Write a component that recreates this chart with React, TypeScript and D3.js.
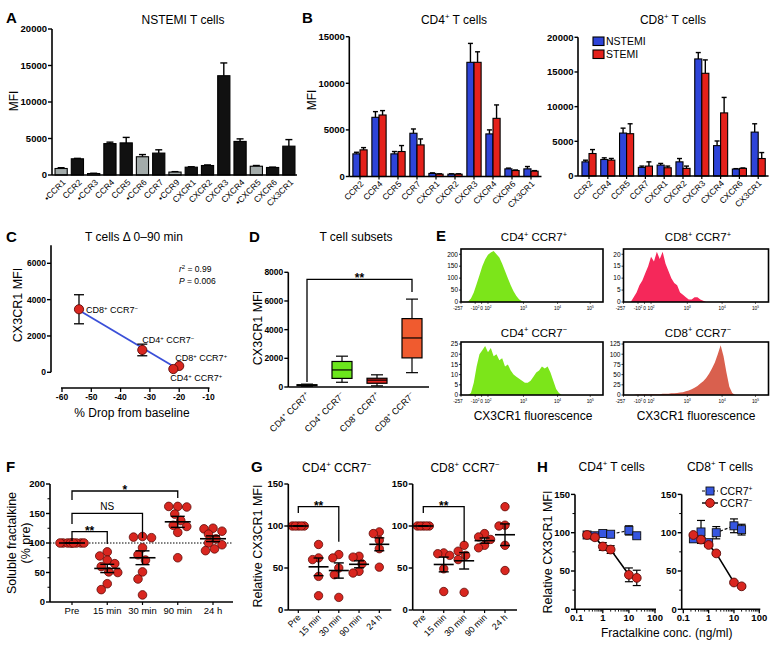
import React from "react";
import * as d3 from "d3";

const FONT = "'Liberation Sans', Arial, Helvetica, sans-serif";
const BLUE = "#2e44d8";
const RED = "#e4211b";
const GRAY = "#a3abaa";
const DOT_FILL = "#d9261f";
const DOT_STROKE = "#5e0b08";
const SW = 1.6;

// ---------------- Panel A ----------------
const aCats = ["•CCR1", "CCR2", "•CCR3", "CCR4", "CCR5", "•CCR6", "CCR7", "•CCR9", "CXCR1", "CXCR2", "CXCR3", "CXCR4", "•CXCR5", "CXCR6", "CX3CR1"];
const aMean = [890, 2220, 200, 4300, 4400, 2500, 3000, 400, 1070, 1300, 13600, 4600, 1200, 1030, 3950];
const aSem = [110, 60, 40, 200, 750, 300, 450, 60, 60, 80, 1750, 350, 100, 50, 900];
const aTicks = [0, 5000, 10000, 15000, 20000];

// ---------------- Panel B ----------------
const bCats = ["CCR2", "CCR4", "CCR5", "CCR7", "CXCR1", "CXCR2", "CXCR3", "CXCR4", "CXCR6", "CX3CR1"];
const bSeries = ["NSTEMI", "STEMI"];
const cd4Nstemi = [2430, 6350, 2430, 4640, 330, 250, 12250, 4570, 820, 820];
const cd4NstemiSem = [170, 610, 250, 460, 60, 40, 2030, 430, 80, 250];
const cd4Stemi = [2860, 6600, 2680, 3390, 250, 250, 12250, 6240, 640, 570];
const cd4StemiSem = [240, 470, 640, 640, 40, 40, 1130, 1440, 60, 60];
const cd8Nstemi = [2040, 2380, 6190, 1240, 1570, 2040, 16880, 4380, 1000, 6330];
const cd8NstemiSem = [240, 240, 710, 190, 240, 480, 920, 670, 60, 1200];
const cd8Stemi = [3240, 2290, 6100, 1430, 1190, 1100, 14810, 9100, 1100, 2520];
const cd8StemiSem = [570, 240, 1430, 610, 240, 330, 1930, 2230, 60, 860];
const cd4Ticks = [0, 5000, 10000, 15000];
const cd8Ticks = [0, 5000, 10000, 15000, 20000];

// ---------------- Panel C ----------------
const cSubsets = ["CD8^+ CCR7^−", "CD4^+ CCR7^−", "CD8^+ CCR7^+", "CD4^+ CCR7^+"];
const cDrop = [-54.2, -32.6, -20, -22];
const cMfi = [3470, 1230, 350, 180];
const cMfiSem = [800, 320, 0, 0];
const cXTicks = [-60, -50, -40, -30, -20, -10];
const cYTicks = [0, 2000, 4000, 6000];
const cLabelOffsets = [[7, 4], [0, -7], [-4, -5], [-3, 12]];

// ---------------- Panel D ----------------
const dCats = ["CD4^+ CCR7^+", "CD4^+ CCR7^−", "CD8^+ CCR7^+", "CD8^+ CCR7^−"];
const dMin = [60, 330, 80, 1000];
const dQ1 = [90, 600, 260, 2030];
const dMed = [120, 1190, 480, 3420];
const dQ3 = [160, 1780, 610, 4770];
const dMax = [200, 2150, 850, 6130];
const dColors = ["#6be61c", "#6be61c", "#e3241f", "#f05b2f"];
const dTicks = [0, 2000, 4000, 6000, 8000];

// ---------------- Panel E ----------------
const eTickFrac = [0, 0.1, 0.145, 0.19, 0.44, 0.68, 0.91];
const eTickLab = ["-257", "-10^2", "0", "10^2", "10^3", "10^4", "10^5"];
const eCd4Pos = [0, 0, 2, 15, 40, 75, 112, 150, 178, 198, 207, 214, 200, 186, 160, 130, 100, 70, 45, 25, 10, 3, 0, 0, 0, 0, 0, 0, 0, 0, 0, 0, 0, 0, 0, 0, 0, 0, 0, 0, 0, 0, 0, 0, 0, 0, 0, 0, 0, 0];
const eCd8Pos = [0, 0, 0, 2, 4, 7, 9, 12, 15, 19, 17, 21, 18, 21, 16, 13, 10, 8, 7, 4, 3, 2, 1, 1, 2, 2, 1, 0.5, 0, 0, 0, 0, 0, 0, 0, 0, 0, 0, 0, 0, 0, 0, 0, 0, 0, 0, 0, 0, 0, 0];
const eCd4Neg = [0, 0, 0, 1, 6, 14, 20, 22, 24, 21, 23, 19, 20, 17, 18, 14, 15, 12, 10, 9, 8, 7, 6, 6, 7, 9, 11, 12, 14, 13, 14, 11, 7, 3, 1, 0, 0, 0, 0, 0, 0, 0, 0, 0, 0, 0, 0, 0, 0, 0];
const eCd8Neg = [0, 0, 0, 0, 1, 1, 1, 2, 1, 2, 2, 2, 2, 3, 3, 3, 4, 4, 5, 6, 7, 9, 11, 14, 18, 22, 28, 34, 42, 52, 65, 80, 100, 122, 95, 55, 20, 5, 0, 0, 0, 0, 0, 0, 0, 0, 0, 0, 0, 0];

// ---------------- Panel F ----------------
const fCats = ["Pre", "15 min", "30 min", "90 min", "24 h"];
const fPre = [100, 100, 100, 100, 100, 100, 100, 100, 100];
const f15 = [85, 78, 71, 65, 60, 51, 50, 31, 21];
const f30 = [111, 110, 109, 92, 80, 71, 51, 39, 12];
const f90 = [162, 162, 161, 149, 138, 130, 128, 118, 75];
const f24 = [125, 124, 120, 115, 107, 100, 97, 90, 87];
const fTicks = [0, 50, 100, 150, 200];

// ---------------- Panel G ----------------
const gCats = ["Pre", "15 min", "30 min", "90 min", "24 h"];
const gCd4 = [[100, 100, 100, 100, 100], [78, 62, 60, 40, 17], [66, 62, 50, 42, 15], [64, 63, 55, 46, 44], [93, 91, 83, 73, 51]];
const gCd8 = [[100, 100, 100, 100, 100], [68, 67, 65, 49, 22], [77, 70, 65, 60, 21], [91, 87, 84, 77, 74], [123, 101, 100, 77, 47]];
const gTicks = [0, 50, 100, 150];

// ---------------- Panel H ----------------
const hConc = [0.25, 0.5, 1, 2, 10, 20];
const hCd4Pos = [97, 96, 99, 98, 103, 96];
const hCd4PosErr = [4, 4, 2, 2, 6, 2];
const hCd4Neg = [97, 94, 82, 78, 45, 41];
const hCd4NegErr = [2, 3, 5, 5, 9, 10];
const hCd8Pos = [92, 101, 87, 100, 109, 104];
const hCd8PosErr = [4, 15, 4, 8, 9, 7];
const hCd8Neg = [97, 91, 84, 73, 35, 30];
const hCd8NegErr = [2, 4, 2, 2, 2, 2];
const hTicks = [0, 50, 100, 150];

// ---------------- helpers ----------------
function SupText({ s, fs }: { s: string; fs: number }) {
  const parts: { t: string; sup: boolean }[] = [];
  let buf = "";
  for (let i = 0; i < s.length; i++) {
    if (s[i] === "^" && i + 1 < s.length) {
      if (buf) parts.push({ t: buf, sup: false });
      buf = "";
      parts.push({ t: s[i + 1], sup: true });
      i++;
    } else buf += s[i];
  }
  if (buf) parts.push({ t: buf, sup: false });
  const sh = fs * 0.38;
  let up = false;
  return (
    <>
      {parts.map((p, k) => {
        let dy = 0;
        if (p.sup && !up) { dy = -sh; up = true; }
        else if (!p.sup && up) { dy = sh; up = false; }
        return (
          <tspan key={k} dy={dy || undefined} fontSize={p.sup ? fs * 0.65 : fs}>{p.t}</tspan>
        );
      })}
    </>
  );
}

function Letter({ x, y, t }: any) {
  return <text x={x} y={y} fontSize={15} fontWeight="bold">{t}</text>;
}

function YAxis({ x, scale, ticks, top, bottom, fs = 9, minor = [], tickLen = 4 }: any) {
  return (
    <g>
      <line x1={x} x2={x} y1={top} y2={bottom} stroke="#000" strokeWidth={SW} />
      {ticks.map((t: number) => (
        <g key={t}>
          <line x1={x - tickLen} x2={x} y1={scale(t)} y2={scale(t)} stroke="#000" strokeWidth={1.4} />
          <text x={x - tickLen - 1} y={scale(t)} dy="0.35em" textAnchor="end" fontSize={fs} fontWeight="bold">{t}</text>
        </g>
      ))}
      {minor.map((t: number) => (
        <line key={"m" + t} x1={x - 2.5} x2={x} y1={scale(t)} y2={scale(t)} stroke="#000" strokeWidth={1} />
      ))}
    </g>
  );
}

function RotLabel({ x, y, s, fs = 9 }: any) {
  return (
    <text transform={`translate(${x},${y}) rotate(-45)`} textAnchor="end" fontSize={fs}>
      <SupText s={s} fs={fs} />
    </text>
  );
}

function swarm(vals: number[], y: (v: number) => number, r: number, maxHalf: number) {
  const order = vals.map((_, i) => i).sort((a, b) => vals[b] - vals[a]);
  const placed: { x: number; y: number }[] = [];
  const off = new Array(vals.length).fill(0);
  const cands = [0];
  for (let s = 1; s * 1.5 <= maxHalf; s++) cands.push(-s * 1.5, s * 1.5);
  order.forEach((i) => {
    const yy = y(vals[i]);
    let best = 0, bestD = -1;
    for (const c of cands) {
      let md = Infinity;
      for (const p of placed) md = Math.min(md, Math.hypot(p.x - c, p.y - yy));
      if (md >= 2 * r * 0.95) { best = c; bestD = md; break; }
      if (md > bestD) { bestD = md; best = c; }
    }
    placed.push({ x: best, y: yy });
    off[i] = best;
  });
  return off;
}

function DotGroup({ cx, vals, y, r = 4.3, maxHalf = 12, meanHalf = 12, capHalf = 6 }: any) {
  const off = swarm(vals, y, r, maxHalf);
  const m = d3.mean(vals) as number;
  const sem = vals.length > 1 ? (d3.deviation(vals) as number) / Math.sqrt(vals.length) : 0;
  return (
    <g>
      {vals.map((v: number, i: number) => (
        <circle key={i} cx={cx + off[i]} cy={y(v)} r={r} fill={DOT_FILL} stroke={DOT_STROKE} strokeWidth={0.8} />
      ))}
      <line x1={cx - meanHalf} x2={cx + meanHalf} y1={y(m)} y2={y(m)} stroke="#000" strokeWidth={1.6} />
      <line x1={cx} x2={cx} y1={y(m - sem)} y2={y(m + sem)} stroke="#000" strokeWidth={1.4} />
      <line x1={cx - capHalf} x2={cx + capHalf} y1={y(m - sem)} y2={y(m - sem)} stroke="#000" strokeWidth={1.4} />
      <line x1={cx - capHalf} x2={cx + capHalf} y1={y(m + sem)} y2={y(m + sem)} stroke="#000" strokeWidth={1.4} />
    </g>
  );
}

function Bracket({ x1, x2, y, yl, yr, label, above = false }: any) {
  return (
    <g>
      <path d={`M${x1},${yl}V${y}H${x2}V${yr}`} fill="none" stroke="#000" strokeWidth={1.3} />
      <text x={(x1 + x2) / 2} y={above ? y - 3 : y + 3} textAnchor="middle" fontSize={above ? 10 : 12} fontWeight={above ? "normal" : "bold"}>{label}</text>
    </g>
  );
}

// ---------------- panels ----------------
function PanelA() {
  const x = d3.scaleBand<string>().domain(aCats).range([53, 297]).paddingInner(0.25).paddingOuter(0.125);
  const y = d3.scaleLinear().domain([0, 20000]).range([175, 29]);
  const bw = x.bandwidth();
  return (
    <g>
      <Letter x={6} y={23} t="A" />
      <text x={183} y={24} textAnchor="middle" fontSize={12}>NSTEMI T cells</text>
      <text transform="translate(17.5,101) rotate(-90)" textAnchor="middle" fontSize={12}>MFI</text>
      {aCats.map((c, i) => {
        const bx = x(c) as number;
        const mx = bx + bw / 2;
        const top = y(aMean[i]);
        const et = y(aMean[i] + aSem[i]);
        return (
          <g key={c}>
            <line x1={mx} x2={mx} y1={top} y2={et} stroke="#000" strokeWidth={1.4} />
            <line x1={mx - 3.5} x2={mx + 3.5} y1={et} y2={et} stroke="#000" strokeWidth={1.4} />
            <rect x={bx} y={top} width={bw} height={y(0) - top} fill={c.startsWith("•") ? GRAY : "#111"} stroke="#000" strokeWidth={1.1} />
            <RotLabel x={mx + 5} y={183} s={c} fs={8.5} />
          </g>
        );
      })}
      <YAxis x={52} scale={y} ticks={aTicks} top={y(20000)} bottom={y(0)} fs={9.5} />
      <line x1={52} x2={297} y1={y(0)} y2={y(0)} stroke="#000" strokeWidth={SW} />
    </g>
  );
}

function GroupBars({ x0, x1, y, ticks, nVals, nSem, sVals, sSem, axisX }: any) {
  const x = d3.scaleBand<string>().domain(bCats).range([x0, x1]).paddingInner(0.25).paddingOuter(0.125);
  const inner = d3.scaleBand<string>().domain(bSeries).range([0, x.bandwidth()]);
  const bw = inner.bandwidth();
  const base = y(0);
  const series: any[] = [[nVals, nSem, BLUE], [sVals, sSem, RED]];
  return (
    <g>
      {bCats.map((c, i) => {
        const cx = (x(c) as number) + x.bandwidth() / 2;
        return (
          <g key={c}>
            {bSeries.map((s, j) => {
              const v = series[j][0][i];
              const e = series[j][1][i];
              const bx = (x(c) as number) + (inner(s) as number);
              const mx = bx + bw / 2;
              const top = y(v);
              const et = y(v + e);
              return (
                <g key={s}>
                  <line x1={mx} x2={mx} y1={top} y2={et} stroke="#000" strokeWidth={1.4} />
                  <line x1={mx - 2.5} x2={mx + 2.5} y1={et} y2={et} stroke="#000" strokeWidth={1.4} />
                  <rect x={bx} y={top} width={bw} height={base - top} fill={series[j][2]} stroke="#000" strokeWidth={1.1} />
                </g>
              );
            })}
            <line x1={cx} x2={cx} y1={base} y2={base + 3} stroke="#000" strokeWidth={1.2} />
            <RotLabel x={cx + 4} y={base + 8} s={c} fs={8.5} />
          </g>
        );
      })}
      <YAxis x={axisX} scale={y} ticks={ticks} top={y(ticks[ticks.length - 1])} bottom={base} fs={9.5} tickLen={3.5} />
      <line x1={axisX} x2={x1 + 1} y1={base} y2={base} stroke="#000" strokeWidth={SW} />
    </g>
  );
}

function PanelB() {
  const y4 = d3.scaleLinear().domain([0, 15000]).range([176.5, 36.7]);
  const y8 = d3.scaleLinear().domain([0, 20000]).range([176, 37.3]);
  return (
    <g>
      <Letter x={302} y={23} t="B" />
      <text x={454} y={24} textAnchor="middle" fontSize={12}><SupText s="CD4^+ T cells" fs={12} /></text>
      <text x={673} y={24} textAnchor="middle" fontSize={12}><SupText s="CD8^+ T cells" fs={12} /></text>
      <text transform="translate(315.5,100) rotate(-90)" textAnchor="middle" fontSize={12}>MFI</text>
      <GroupBars x0={350.5} x1={540.5} y={y4} ticks={cd4Ticks} nVals={cd4Nstemi} nSem={cd4NstemiSem} sVals={cd4Stemi} sSem={cd4StemiSem} axisX={349.3} />
      <GroupBars x0={579.6} x1={767.6} y={y8} ticks={cd8Ticks} nVals={cd8Nstemi} nSem={cd8NstemiSem} sVals={cd8Stemi} sSem={cd8StemiSem} axisX={578} />
      {bSeries.map((s, j) => (
        <g key={s}>
          <rect x={593} y={37 + j * 13} width={11} height={8.5} fill={j === 0 ? BLUE : RED} stroke="#000" strokeWidth={1.1} />
          <text x={606} y={45 + j * 13} fontSize={10.5}>{s}</text>
        </g>
      ))}
    </g>
  );
}

function PanelC() {
  const x = d3.scaleLinear().domain([-60, -10]).range([62, 208.5]);
  const y = d3.scaleLinear().domain([0, 6000]).range([372.3, 263.3]);
  const mx = d3.mean(cDrop) as number;
  const my = d3.mean(cMfi) as number;
  const b = (d3.sum(cDrop.map((d, i) => (d - mx) * (cMfi[i] - my))) as number) / (d3.sum(cDrop.map((d) => (d - mx) ** 2)) as number);
  const a = my - b * mx;
  const [xmin, xmax] = d3.extent(cDrop) as [number, number];
  return (
    <g>
      <Letter x={6} y={242} t="C" />
      <text x={134} y={241} textAnchor="middle" fontSize={12}>T cells Δ 0–90 min</text>
      <text transform="translate(22,305) rotate(-90)" textAnchor="middle" fontSize={12.5}>CX3CR1 MFI</text>
      <YAxis x={51} scale={y} ticks={cYTicks} top={y(7000)} bottom={y(0)} fs={8.5} />
      <line x1={x(-60) - 1} x2={x(-10) + 1} y1={388} y2={388} stroke="#000" strokeWidth={SW} />
      {cXTicks.map((t) => (
        <g key={t}>
          <line x1={x(t)} x2={x(t)} y1={388} y2={392} stroke="#000" strokeWidth={1.3} />
          <text x={x(t)} y={400} textAnchor="middle" fontSize={8.5} fontWeight="bold">{t}</text>
        </g>
      ))}
      <text x={132} y={417} textAnchor="middle" fontSize={12}>% Drop from baseline</text>
      <line x1={x(xmin)} x2={x(xmax)} y1={y(a + b * xmin)} y2={y(a + b * xmax)} stroke="#3a4fd8" strokeWidth={1.8} />
      {cSubsets.map((s, i) => {
        const px = x(cDrop[i]);
        const py = y(cMfi[i]);
        const e = cMfiSem[i];
        return (
          <g key={s}>
            {e > 0 && (
              <g>
                <line x1={px} x2={px} y1={y(cMfi[i] - e)} y2={y(cMfi[i] + e)} stroke="#000" strokeWidth={1.3} />
                <line x1={px - 5} x2={px + 5} y1={y(cMfi[i] - e)} y2={y(cMfi[i] - e)} stroke="#000" strokeWidth={1.3} />
                <line x1={px - 5} x2={px + 5} y1={y(cMfi[i] + e)} y2={y(cMfi[i] + e)} stroke="#000" strokeWidth={1.3} />
              </g>
            )}
            <circle cx={px} cy={py} r={4.6} fill={DOT_FILL} stroke={DOT_STROKE} strokeWidth={0.9} />
          </g>
        );
      })}
      {cSubsets.map((s, i) => (
        <text key={s} x={x(cDrop[i]) + cLabelOffsets[i][0]} y={y(cMfi[i]) + cLabelOffsets[i][1]} fontSize={9}>
          <SupText s={s} fs={9} />
        </text>
      ))}
      <text x={179} y={272} fontSize={8.5}><tspan fontStyle="italic">r</tspan><tspan dy={-3} fontSize={6}>2</tspan><tspan dy={3}> = 0.99</tspan></text>
      <text x={179} y={284} fontSize={8.5}><tspan fontStyle="italic">P</tspan> = 0.006</text>
    </g>
  );
}

function PanelD() {
  const x = d3.scalePoint<string>().domain(dCats).range([289.5, 429.5]).padding(0.5);
  const y = d3.scaleLinear().domain([0, 8000]).range([387, 272.3]);
  const hw = 10;
  return (
    <g>
      <Letter x={249} y={242} t="D" />
      <text x={356} y={241} textAnchor="middle" fontSize={12}>T cell subsets</text>
      <text transform="translate(262,328) rotate(-90)" textAnchor="middle" fontSize={12.5}>CX3CR1 MFI</text>
      {dCats.map((c, i) => {
        const cx = x(c) as number;
        return (
          <g key={c}>
            <line x1={cx} x2={cx} y1={y(dMin[i])} y2={y(dQ1[i])} stroke="#000" strokeWidth={1.2} />
            <line x1={cx} x2={cx} y1={y(dQ3[i])} y2={y(dMax[i])} stroke="#000" strokeWidth={1.2} />
            <line x1={cx - 6} x2={cx + 6} y1={y(dMin[i])} y2={y(dMin[i])} stroke="#000" strokeWidth={1.2} />
            <line x1={cx - 6} x2={cx + 6} y1={y(dMax[i])} y2={y(dMax[i])} stroke="#000" strokeWidth={1.2} />
            <rect x={cx - hw} y={y(dQ3[i])} width={hw * 2} height={y(dQ1[i]) - y(dQ3[i])} fill={dColors[i]} stroke="#000" strokeWidth={1.2} />
            <line x1={cx - hw} x2={cx + hw} y1={y(dMed[i])} y2={y(dMed[i])} stroke="#000" strokeWidth={1.2} />
            <RotLabel x={cx + 3} y={396} s={c} fs={9} />
          </g>
        );
      })}
      <Bracket x1={x(dCats[0])} x2={x(dCats[3])} y={279.3} yl={382} yr={292} label="**" />
      <YAxis x={288.3} scale={y} ticks={dTicks} top={y(8000)} bottom={y(0)} fs={8.5} />
      <line x1={288.3} x2={429} y1={y(0)} y2={y(0)} stroke="#000" strokeWidth={SW} />
    </g>
  );
}

function Histo({ bx, by, bw, bh, yMax, yTicks, counts, color, title, titleY }: any) {
  const x = d3.scaleLinear().domain([0, 1]).range([bx, bx + bw]);
  const y = d3.scaleLinear().domain([0, yMax]).range([by + bh, by]);
  const n = counts.length;
  const area = d3.area<number>().x((_, i) => x((i + 0.5) / n)).y0(by + bh).y1((d) => y(d));
  const id = "clip" + Math.round(bx) + Math.round(by);
  return (
    <g>
      <text x={bx + bw / 2 + 2} y={titleY} textAnchor="middle" fontSize={11.5}><SupText s={title} fs={11.5} /></text>
      <clipPath id={id}><rect x={bx} y={by} width={bw} height={bh} /></clipPath>
      <path d={area(counts) as string} fill={color} clipPath={`url(#${id})`} />
      <rect x={bx} y={by} width={bw} height={bh} fill="none" stroke="#000" strokeWidth={1.6} />
      {yTicks.map((t: number) => (
        <g key={t}>
          <line x1={bx - 2} x2={bx} y1={y(t)} y2={y(t)} stroke="#000" strokeWidth={0.8} />
          <text x={bx - 3} y={y(t)} dy="0.35em" textAnchor="end" fontSize={6.5}>{t}</text>
        </g>
      ))}
      {eTickFrac.map((f, i) => (
        <g key={i}>
          <line x1={x(f)} x2={x(f)} y1={by + bh} y2={by + bh + 2} stroke="#000" strokeWidth={0.6} />
          <text x={x(f) - (i === 0 ? 3 : 0)} y={by + bh + 8} textAnchor="middle" fontSize={4.8}>
            <SupText s={eTickLab[i]} fs={4.8} />
          </text>
        </g>
      ))}
    </g>
  );
}

function PanelE() {
  return (
    <g>
      <Letter x={436} y={241} t="E" />
      <Histo bx={461} by={249} bw={142} bh={53} yMax={222} yTicks={[0, 50, 100, 150, 200]} counts={eCd4Pos} color="#7ce51a" title="CD4^+ CCR7^+" titleY={241} />
      <Histo bx={623.5} by={249} bw={145} bh={53} yMax={22.2} yTicks={[0, 5, 10, 15, 20]} counts={eCd8Pos} color="#f5285a" title="CD8^+ CCR7^+" titleY={241} />
      <Histo bx={461} by={342} bw={142} bh={53} yMax={26} yTicks={[0, 5, 10, 15, 20, 25]} counts={eCd4Neg} color="#7ce51a" title="CD4^+ CCR7^−" titleY={336.5} />
      <Histo bx={623.5} by={342} bw={145} bh={53} yMax={130} yTicks={[0, 25, 50, 75, 100, 125]} counts={eCd8Neg} color="#d9604e" title="CD8^+ CCR7^−" titleY={336.5} />
      <text x={533} y={420} textAnchor="middle" fontSize={12}>CX3CR1 fluorescence</text>
      <text x={696} y={420} textAnchor="middle" fontSize={12}>CX3CR1 fluorescence</text>
    </g>
  );
}

function PanelF() {
  const x = d3.scalePoint<string>().domain(fCats).range([72, 213]);
  const y = d3.scaleLinear().domain([0, 200]).range([602, 484]);
  const groups = [fPre, f15, f30, f90, f24];
  const px = (i: number) => x(fCats[i]) as number;
  return (
    <g>
      <Letter x={6} y={472} t="F" />
      <text transform="translate(15.5,543) rotate(-90)" textAnchor="middle" fontSize={12.5}>Soluble fractalkine</text>
      <text transform="translate(30,543) rotate(-90)" textAnchor="middle" fontSize={12.5}>(% pre)</text>
      <line x1={50} x2={233} y1={y(100)} y2={y(100)} stroke="#000" strokeWidth={1} strokeDasharray="1.5,1.5" />
      {groups.map((g, i) => (
        <DotGroup key={i} cx={px(i)} vals={g} y={y} maxHalf={12} meanHalf={13} capHalf={7} />
      ))}
      <Bracket x1={px(0)} x2={px(3)} y={491} yl={500} yr={498} label="*" />
      <Bracket x1={px(0)} x2={px(2)} y={513.3} yl={524} yr={538} label="NS" above />
      <Bracket x1={px(0)} x2={px(1)} y={531.7} yl={541} yr={544} label="**" />
      <YAxis x={50} scale={y} ticks={fTicks} top={y(200)} bottom={y(0)} fs={9.5} minor={[25, 75, 125, 175]} />
      <line x1={50} x2={233} y1={y(0)} y2={y(0)} stroke="#000" strokeWidth={SW} />
      {fCats.map((c, i) => (
        <g key={c}>
          <line x1={px(i)} x2={px(i)} y1={y(0)} y2={y(0) + 3} stroke="#000" strokeWidth={1.2} />
          <text x={px(i)} y={614} textAnchor="middle" fontSize={9.5}>{c}</text>
        </g>
      ))}
    </g>
  );
}

function GSub({ axisX, x0, x1, data, title, titleX }: any) {
  const x = d3.scalePoint<string>().domain(gCats).range([x0, x1]);
  const y = d3.scaleLinear().domain([0, 150]).range([610, 484]);
  const px = (i: number) => x(gCats[i]) as number;
  return (
    <g>
      <text x={titleX} y={471.7} textAnchor="middle" fontSize={12}><SupText s={title} fs={12} /></text>
      {data.map((g: number[], i: number) => (
        <DotGroup key={i} cx={px(i)} vals={g} y={y} r={4.2} maxHalf={6} meanHalf={10} capHalf={5} />
      ))}
      <Bracket x1={px(0)} x2={px(2)} y={506.7} yl={513} yr={541.7} label="**" />
      <YAxis x={axisX} scale={y} ticks={gTicks} top={y(150)} bottom={y(0)} fs={9.5} />
      <line x1={axisX} x2={x1 + 12} y1={y(0)} y2={y(0)} stroke="#000" strokeWidth={SW} />
      {gCats.map((c, i) => (
        <g key={c}>
          <line x1={px(i)} x2={px(i)} y1={y(0)} y2={y(0) + 3} stroke="#000" strokeWidth={1.2} />
          <RotLabel x={px(i) + 3} y={618} s={c} fs={9} />
        </g>
      ))}
    </g>
  );
}

function PanelG() {
  return (
    <g>
      <Letter x={251} y={472} t="G" />
      <text transform="translate(262,546) rotate(-90)" textAnchor="middle" fontSize={12.5}>Relative CX3CR1 MFI</text>
      <GSub axisX={288.3} x0={298.3} x1={379.3} data={gCd4} title="CD4^+ CCR7^−" titleX={336.7} />
      <GSub axisX={412.7} x0={423.3} x1={505} data={gCd8} title="CD8^+ CCR7^−" titleX={465} />
    </g>
  );
}

function HSub({ axisX, xr0, xr1, pos, posErr, neg, negErr, title, titleX, legend }: any) {
  const x = d3.scaleLog().domain([0.1, 100]).range([xr0, xr1]);
  const y = d3.scaleLinear().domain([0, 150]).range([609.3, 494.4]);
  const majors = [0.1, 1, 10, 100];
  const minors: number[] = [];
  [0.1, 1, 10].forEach((d) => { for (let k = 2; k <= 9; k++) minors.push(d * k); });
  const lineGen = d3.line<number>().x((_, i) => x(hConc[i])).y((d) => y(d));
  const sq = 8;
  return (
    <g>
      <text x={titleX} y={471} textAnchor="middle" fontSize={12}><SupText s={title} fs={12} /></text>
      <path d={lineGen(pos) as string} fill="none" stroke="#111" strokeWidth={1.2} strokeDasharray="3,2" />
      <path d={lineGen(neg) as string} fill="none" stroke="#000" strokeWidth={1.6} />
      {[[pos, posErr], [neg, negErr]].map(([vals, errs]: any, s) => (
        <g key={s}>
          {vals.map((v: number, i: number) => {
            const cx = x(hConc[i]);
            return (
              <g key={i}>
                <line x1={cx} x2={cx} y1={y(v - errs[i])} y2={y(v + errs[i])} stroke="#000" strokeWidth={1.2} />
                <line x1={cx - 4} x2={cx + 4} y1={y(v - errs[i])} y2={y(v - errs[i])} stroke="#000" strokeWidth={1.2} />
                <line x1={cx - 4} x2={cx + 4} y1={y(v + errs[i])} y2={y(v + errs[i])} stroke="#000" strokeWidth={1.2} />
              </g>
            );
          })}
        </g>
      ))}
      {pos.map((v: number, i: number) => (
        <rect key={"p" + i} x={x(hConc[i]) - sq / 2} y={y(v) - sq / 2} width={sq} height={sq} fill="#3656e0" stroke="#111" strokeWidth={0.9} />
      ))}
      {neg.map((v: number, i: number) => (
        <circle key={"n" + i} cx={x(hConc[i])} cy={y(v)} r={4.4} fill={DOT_FILL} stroke={DOT_STROKE} strokeWidth={0.9} />
      ))}
      <YAxis x={axisX} scale={y} ticks={hTicks} top={y(150)} bottom={y(0)} fs={9.5} minor={[25, 75, 125]} />
      <line x1={axisX} x2={xr1 + 1} y1={y(0)} y2={y(0)} stroke="#000" strokeWidth={SW} />
      {majors.map((t) => (
        <g key={t}>
          <line x1={x(t)} x2={x(t)} y1={y(0)} y2={y(0) + 4} stroke="#000" strokeWidth={1.3} />
          <text x={x(t)} y={y(0) + 12} textAnchor="middle" fontSize={9.5} fontWeight="bold">{t}</text>
        </g>
      ))}
      {minors.map((t) => (
        <line key={"m" + t} x1={x(t)} x2={x(t)} y1={y(0)} y2={y(0) + 2.3} stroke="#000" strokeWidth={0.9} />
      ))}
      {legend && (
        <g>
          <line x1={702} x2={718} y1={491} y2={491} stroke="#111" strokeWidth={1.2} strokeDasharray="3,2" />
          <rect x={710 - sq / 2} y={491 - sq / 2} width={sq} height={sq} fill="#3656e0" stroke="#111" strokeWidth={0.9} />
          <text x={720} y={494.5} fontSize={10.5}><SupText s="CCR7^+" fs={10.5} /></text>
          <line x1={702} x2={718} y1={503} y2={503} stroke="#000" strokeWidth={1.4} />
          <circle cx={710} cy={503} r={4.4} fill={DOT_FILL} stroke={DOT_STROKE} strokeWidth={0.9} />
          <text x={720} y={506.5} fontSize={10.5}><SupText s="CCR7^−" fs={10.5} /></text>
        </g>
      )}
    </g>
  );
}

function PanelH() {
  return (
    <g>
      <Letter x={537} y={472} t="H" />
      <text transform="translate(551.5,552) rotate(-90)" textAnchor="middle" fontSize={12.5}>Relative CX3CR1 MFI</text>
      <HSub axisX={575} xr0={576.7} xr1={655} pos={hCd4Pos} posErr={hCd4PosErr} neg={hCd4Neg} negErr={hCd4NegErr} title="CD4^+ T cells" titleX={611.7} legend={false} />
      <HSub axisX={681.7} xr0={683.3} xr1={759.3} pos={hCd8Pos} posErr={hCd8PosErr} neg={hCd8Neg} negErr={hCd8NegErr} title="CD8^+ T cells" titleX={720} legend={true} />
      <text x={666.7} y={637} textAnchor="middle" fontSize={12}>Fractalkine conc. (ng/ml)</text>
    </g>
  );
}

export default function App() {
  return (
    <svg width={773} height={654} style={{ position: "absolute", left: 0, top: 0, background: "#fff" }} fontFamily={FONT}>
      <rect width={773} height={654} fill="#fff" />
      <PanelA />
      <PanelB />
      <PanelC />
      <PanelD />
      <PanelE />
      <PanelF />
      <PanelG />
      <PanelH />
    </svg>
  );
}
